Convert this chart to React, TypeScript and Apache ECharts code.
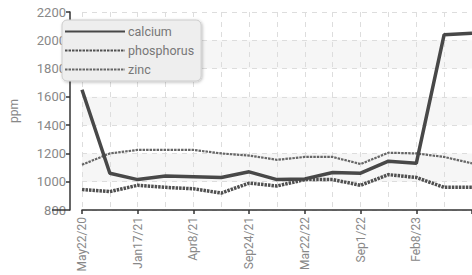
import React, { useEffect, useRef } from "react";
import * as echarts from "echarts";

const tickLabels = ["May22/20", "Jan17/21", "Apr8/21", "Sep24/21", "Mar22/22", "Sep1/22", "Feb8/23"];
const categories = Array.from({ length: 15 }, (_, i) => `c${i}`);
const calcium = [1650, 1060, 1015, 1040, 1035, 1030, 1070, 1015, 1020, 1065, 1060, 1145, 1130, 2040, 2050];
const phosphorus = [945, 930, 975, 960, 950, 920, 990, 970, 1015, 1015, 975, 1050, 1030, 960, 960];
const zinc = [1120, 1200, 1225, 1225, 1225, 1200, 1185, 1155, 1175, 1175, 1125, 1205, 1200, 1175, 1130];

const FONT = "Roboto, sans-serif";

export default function App() {
  const ref = useRef<HTMLDivElement>(null);
  useEffect(() => {
    if (!ref.current) return;
    const chart = echarts.init(ref.current, null, { renderer: "svg" });
    chart.setOption({
      animation: false,
      backgroundColor: "#fff",
      grid: { left: 65, right: -24, top: 12, bottom: 65 },
      legend: {
        orient: "vertical",
        left: 62,
        top: 20,
        itemWidth: 60,
        itemHeight: 10,
        itemGap: 6,
        padding: [5, 7, 5, 2],
        backgroundColor: "#eeeeee",
        borderColor: "#cccccc",
        borderWidth: 1,
        borderRadius: 5,
        shadowBlur: 3,
        shadowColor: "rgba(0,0,0,0.25)",
        shadowOffsetX: 1,
        shadowOffsetY: 1,
        itemStyle: { opacity: 0, borderWidth: 0 },
        textStyle: { color: "#777", fontSize: 12.5, fontFamily: FONT, padding: [0, 0, 0, -2] },
        data: ["calcium", "phosphorus", "zinc"],
      },
      xAxis: {
        type: "category",
        boundaryGap: false,
        data: categories,
        axisLine: { lineStyle: { color: "#333", width: 1.5 } },
        axisTick: { interval: 1, length: 4, lineStyle: { color: "#333", width: 1.5 } },
        axisLabel: {
          interval: 1,
          rotate: 90,
          margin: 7,
          color: "#888",
          fontSize: 12,
          fontFamily: FONT,
          formatter: (_v: string, i: number) => (i % 2 === 0 ? tickLabels[i / 2] ?? "" : ""),
        },
        splitLine: { show: true, interval: 0, lineStyle: { color: "#dddddd", type: [5, 5] } },
      },
      yAxis: {
        type: "value",
        min: 800,
        max: 2200,
        interval: 200,
        offset: 12,
        name: "ppm",
        nameLocation: "middle",
        nameGap: 38,
        nameTextStyle: { color: "#888", fontSize: 12, fontFamily: FONT, padding: [0, 0, 12, 0] },
        axisLine: { show: true, lineStyle: { color: "#333", width: 1.5 } },
        axisTick: { show: true, length: 4, lineStyle: { color: "#333", width: 1.5 } },
        axisLabel: {
          color: "#888",
          fontSize: 13,
          fontFamily: FONT,
          margin: 4,
          formatter: (v: number) => String(v),
        },
        splitLine: { show: true, lineStyle: { color: "#dddddd", type: [5, 5] } },
        splitArea: { show: true, areaStyle: { color: ["rgba(255,255,255,0)", "#f6f6f6"] } },
      },
      graphic: [
        {
          type: "line",
          shape: { x1: 52, y1: 210, x2: 66, y2: 210 },
          style: { stroke: "#333", lineWidth: 1.5 },
          z: 10,
        },
      ],
      series: [
        {
          name: "calcium",
          type: "line",
          data: calcium,
          symbol: "none",
          z: 4,
          lineStyle: { color: "#484848", width: 3.5 },
          itemStyle: { color: "#484848" },
        },
        {
          name: "phosphorus",
          type: "line",
          data: phosphorus,
          symbol: "none",
          z: 3,
          lineStyle: { color: "#505050", width: 3.5, type: [2.5, 1] },
          itemStyle: { color: "#505050" },
        },
        {
          name: "zinc",
          type: "line",
          data: zinc,
          symbol: "none",
          z: 2,
          lineStyle: { color: "#666666", width: 2.2, type: [2.5, 1] },
          itemStyle: { color: "#666666" },
        },
      ],
    });
    return () => chart.dispose();
  }, []);
  return <div ref={ref} style={{ width: 472, height: 275, position: "absolute", left: 0, top: 0 }} />;
}
